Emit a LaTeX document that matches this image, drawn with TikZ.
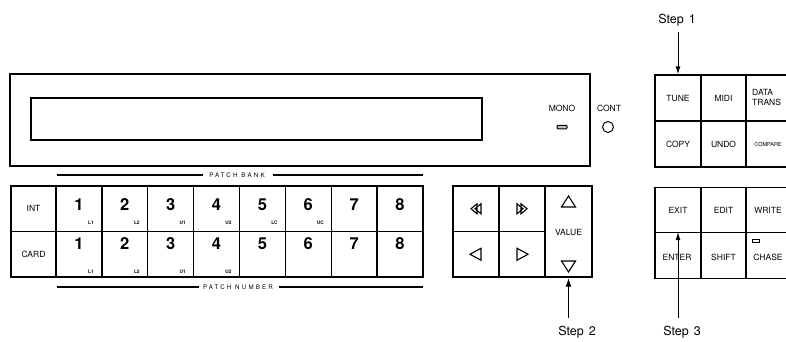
\documentclass[tikz,border=0pt]{standalone}
\usepackage{fontspec}
\setmainfont{TeX Gyre Heros}
\usetikzlibrary{arrows.meta}
\begin{document}
\begin{tikzpicture}[x=1pt,y=-1pt,line join=miter,
  frame/.style={draw,line width=1.4pt,inner sep=0pt},
  keybox/.style={draw,line width=1.4pt,inner sep=0pt,minimum width=45.875pt,minimum height=45.5pt},
  lab/.style={font=\fontsize{8.5}{9}\selectfont,inner sep=0pt},
  tinylab/.style={font=\fontsize{5.5}{6}\selectfont,inner sep=0pt},
  numlab/.style={font=\fontsize{16.5}{17}\selectfont\bfseries,inner sep=0pt},
  sublab/.style={font=\fontsize{4.8}{5}\selectfont\bfseries,inner sep=0pt},
  banklab/.style={font=\fontsize{6.2}{7}\selectfont\addfontfeature{LetterSpace=35},inner sep=0pt},
  steplab/.style={font=\fontsize{12.5}{13}\selectfont,inner sep=0pt},
  rule/.style={line width=1.1pt},
  sym/.style={line width=1.1pt},
  thinarrow/.style={line width=0.9pt,-{Latex[length=8pt,width=5pt]}},
  thickarrow/.style={line width=1.6pt,-{Latex[length=9pt,width=6pt]}}]
\useasboundingbox (0,0) rectangle (786,341);
\clip (0,0) rectangle (786,341);

% display panel
\node[frame,minimum width=580pt,minimum height=92pt] (panel) at (300,120) {};
\node[frame,minimum width=451pt,minimum height=42pt] (lcd) at (256.5,119) {};
\node[lab] (mono) at (562,108) {MONO};
\node[draw,line width=1pt,fill=black!25,rounded corners=0.8pt,minimum width=10pt,minimum height=3.5pt,inner sep=0pt] (monoled) at (562,127) {};
\node[lab] (cont) at (609,108) {CONT};
\node[draw,circle,line width=1pt,minimum size=11pt,inner sep=0pt] (contled) at (608,127) {};

% patch bank label
\node[banklab] (pbank) at (237,175) {PATCH BANK};
\coordinate (pbl) at (57,175);
\coordinate (pbr) at (423,175);
\draw[rule] (pbl) -- ([xshift=-6pt]pbank.west);
\draw[rule] ([xshift=8pt]pbank.east) -- (pbr);

% patch number label
\node[banklab] (pnum) at (238,287) {PATCH NUMBER};
\coordinate (pnl) at (57,287);
\coordinate (pnr) at (423,287);
\draw[rule] (pnl) -- ([xshift=-4pt]pnum.west);
\draw[rule] ([xshift=6pt]pnum.east) -- (pnr);

% INT / CARD
\node[keybox,minimum width=45pt] (int) at (33.5,208.75) {};
\node[lab] (intt) at (int.center) {INT};
\node[keybox,minimum width=45pt] (card) at (33.5,254.25) {};
\node[lab] (cardt) at (card.center) {CARD};

% number keys
\foreach \i/\t/\b [evaluate=\i as \x using 56+45.875*(\i-0.5)] in {1/L1/L1,2/L2/L2,3/U1/U1,4/U2/U2,5/LC/,6/UC/,7//,8//}{
  \node[keybox] (t\i) at (\x,208.75) {};
  \node[numlab] (tn\i) at (\x,205) {\i};
  \node[sublab] (ts\i) at (\x+12,223) {\t};
  \node[keybox] (b\i) at (\x,254.25) {};
  \node[numlab] (bn\i) at (\x,244) {\i};
  \node[sublab] (bs\i) at (\x+12,272) {\b};
}

% arrow keys block
\node[keybox,minimum width=46pt] (rew) at (476,208.75) {};
\node[keybox,minimum width=46pt] (ff) at (522,208.75) {};
\node[keybox,minimum width=46pt] (left) at (476,254.25) {};
\node[keybox,minimum width=46pt] (right) at (522,254.25) {};
\node[keybox,minimum width=47pt,minimum height=91pt] (value) at (568.5,231.5) {};
\node[lab] (valuet) at (568.5,232) {VALUE};
\draw[sym,shift={(rew.center)}] (-5,0) -- (1,-5) -- (1,5) -- cycle (-1,0) -- (5,-5) -- (5,5) -- cycle;
\draw[sym,shift={(ff.center)}] (5,0) -- (-1,-5) -- (-1,5) -- cycle (1,0) -- (-5,-5) -- (-5,5) -- cycle;
\draw[sym,shift={(left.center)}] (-6,0) -- (5,-6) -- (5,6) -- cycle;
\draw[sym,shift={(right.center)}] (6,0) -- (-5,-6) -- (-5,6) -- cycle;
\draw[sym,shift={(568.5,202)}] (0,-6) -- (7,5) -- (-7,5) -- cycle;
\draw[sym,shift={(568.5,266)}] (0,6) -- (7,-5) -- (-7,-5) -- cycle;

% right upper block
\node[keybox,minimum width=46pt,minimum height=46pt] (tune) at (678,98) {};
\node[keybox,minimum width=45pt,minimum height=46pt] (midi) at (723.5,98) {};
\node[keybox,minimum width=46pt,minimum height=46pt] (data) at (769,98) {};
\node[keybox,minimum width=46pt,minimum height=46pt] (copy) at (678,144) {};
\node[keybox,minimum width=45pt,minimum height=46pt] (undo) at (723.5,144) {};
\node[keybox,minimum width=46pt,minimum height=46pt] (compare) at (769,144) {};
\node[lab] (tunet) at (tune.center) {TUNE};
\node[lab] (midit) at (midi.center) {MIDI};
\node[lab,align=left,anchor=west] (datat) at (752,97) {DATA\\[1pt]TRANS};
\node[lab] (copyt) at (copy.center) {COPY};
\node[lab] (undot) at (undo.center) {UNDO};
\node[tinylab] (comparet) at (768,144) {COMPARE};

% right lower block
\node[keybox,minimum width=46pt] (exit) at (678,210) {};
\node[keybox,minimum width=45pt] (edit) at (723.5,210) {};
\node[keybox,minimum width=46pt] (write) at (769,210) {};
\node[keybox,minimum width=46pt] (enter) at (678,255.5) {};
\node[keybox,minimum width=45pt] (shift) at (723.5,255.5) {};
\node[keybox,minimum width=46pt] (chase) at (769,255.5) {};
\node[lab] (exitt) at (exit.center) {EXIT};
\node[lab] (editt) at (edit.center) {EDIT};
\node[lab] (writet) at (768,210) {WRITE};
\node[lab] (entert) at (677,257) {ENTER};
\node[lab] (shiftt) at (723.5,257) {SHIFT};
\node[lab] (chaset) at (768,257) {CHASE};
\node[draw,line width=1pt,minimum width=7pt,minimum height=3.5pt,inner sep=0pt] (chaseled) at (756,241) {};

% steps
\node[steplab] (step1) at (677,20) {Step\hspace{5pt}1};
\node[steplab] (step2) at (577,332) {Step\hspace{5pt}2};
\node[steplab] (step3) at (682,332) {Step\hspace{5pt}3};
\coordinate (s1a) at (678,32);
\coordinate (s2a) at (568.5,318);
\coordinate (s3a) at (678,318);
\draw[thinarrow] (s1a) -- (tune.north);
\draw[thickarrow] (s2a) -- (value.south);
\draw[thinarrow] (s3a) -- (enter.north);
\end{tikzpicture}
\end{document}
